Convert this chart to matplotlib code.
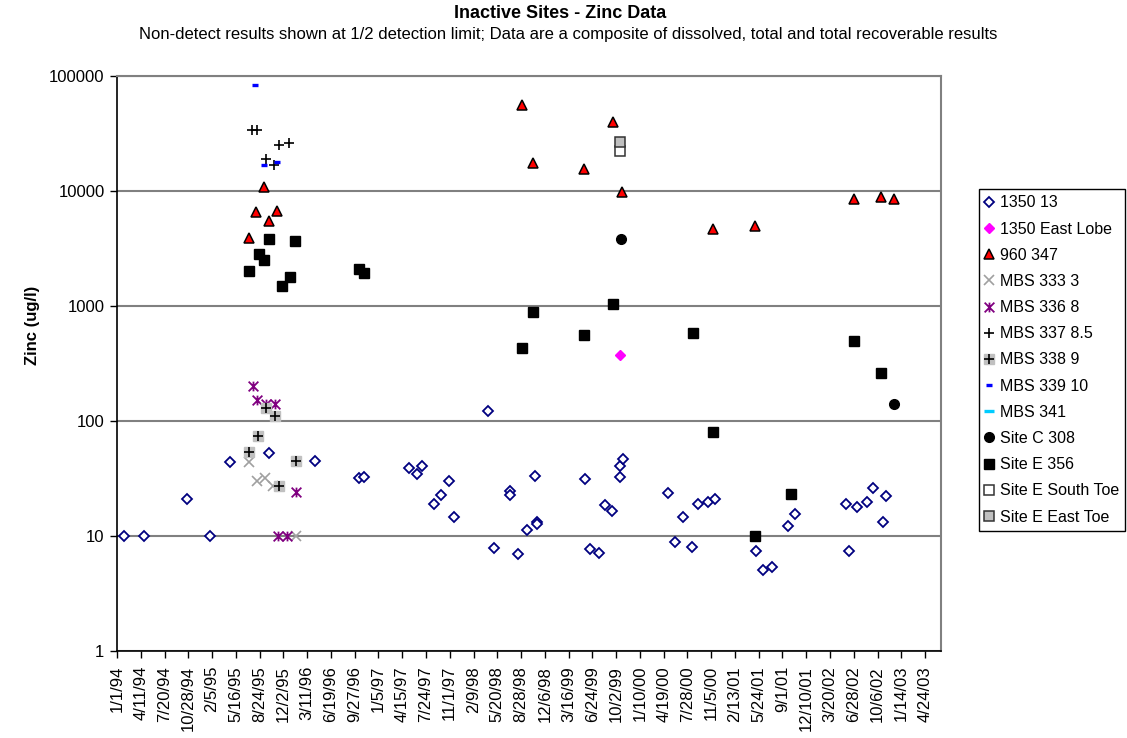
import datetime
import matplotlib
matplotlib.use('Agg')
import matplotlib.pyplot as plt
from matplotlib.path import Path

plt.rcParams['font.family'] = ['Liberation Sans', 'DejaVu Sans']

# Zinc (ug/l) per well; non-detects plotted at 1/2 detection limit
d_1350_13 = ['1994-01-29', '1994-04-26', '1994-10-23', '1995-01-26', '1995-04-22', '1995-10-01',
             '1996-04-13', '1996-10-14', '1996-11-04', '1997-05-14', '1997-06-18', '1997-07-08',
             '1997-08-26', '1997-09-27', '1997-10-28', '1997-11-17', '1998-04-11', '1998-05-05',
             '1998-07-12', '1998-07-14', '1998-08-17', '1998-09-22', '1998-10-25', '1998-11-02',
             '1998-11-03', '1999-05-25', '1999-06-15', '1999-07-20', '1999-08-16', '1999-09-14',
             '1999-10-18', '1999-10-18', '1999-11-01', '2000-05-06', '2000-06-07', '2000-07-10',
             '2000-08-15', '2000-09-11', '2000-10-23', '2000-11-21', '2001-05-13', '2001-06-12',
             '2001-07-17', '2001-09-23', '2001-10-22', '2002-05-25', '2002-06-08', '2002-07-13',
             '2002-08-24', '2002-09-15', '2002-10-27', '2002-11-10']
v_1350_13 = [10, 10, 21, 10, 44, 52, 45, 31.5, 32.5, 39, 34.5, 40.5,
             19, 22.5, 30, 14.6, 121, 7.8, 24.5, 22.5, 7.0, 11.1, 33, 13.1,
             12.6, 31, 7.6, 7.1, 18.6, 16.5, 32.5, 40, 46, 23.5, 8.9, 14.6,
             8.0, 18.8, 19.5, 21, 7.3, 5.0, 5.3, 12.1, 15.4, 18.8, 7.4, 17.8,
             19.5, 25.8, 13.2, 22]

d_1350_el = ['1999-10-19']
v_1350_el = [373]

d_960_347 = ['1995-07-10', '1995-08-10', '1995-09-13', '1995-10-01', '1995-11-07', '1998-08-31',
             '1998-10-19', '1999-05-22', '1999-09-19', '1999-10-25', '2000-11-14', '2001-05-08',
             '2002-06-30', '2002-10-19', '2002-12-15']
v_960_347 = [3850, 6500, 10800, 5500, 6700, 55600, 17500, 15300, 39300, 9700, 4600, 4900,
             8500, 8800, 8500]

d_mbs333 = ['1995-07-10', '1995-08-15', '1995-09-17', '1995-10-19', '1996-01-26']
v_mbs333 = [44, 30, 32, 27, 10]

d_mbs336 = ['1995-07-27', '1995-08-15', '1995-09-22', '1995-10-26', '1995-11-11', '1995-12-17',
            '1996-01-23']
v_mbs336 = [200, 150, 141, 140, 10, 10, 24]

d_mbs337 = ['1995-07-25', '1995-08-13', '1995-09-19', '1995-10-25', '1995-11-14', '1995-12-26']
v_mbs337 = [33700, 33700, 19000, 16700, 24800, 26000]

d_mbs338 = ['1995-07-10', '1995-08-17', '1995-09-19', '1995-10-26', '1995-11-14', '1996-01-24']
v_mbs338 = [53, 73, 130, 110, 27, 45]

d_mbs339 = ['1995-08-05', '1995-09-10', '1995-11-05']
v_mbs339 = [82600, 16800, 17800]

d_mbs341 = []
v_mbs341 = []

d_sitec = ['1999-10-23', '2002-12-15']
v_sitec = [3800, 141]

d_sitee = ['1995-07-10', '1995-08-21', '1995-09-11', '1995-10-02', '1995-11-26', '1995-12-29',
           '1996-01-18', '1996-10-15', '1996-11-07', '1998-09-01', '1998-10-19', '1999-05-22',
           '1999-09-20', '2000-08-21', '2000-11-14', '2001-05-08', '2001-10-06', '2002-06-30',
           '2002-10-19']
v_sitee = [1990, 2800, 2500, 3780, 1490, 1790, 3630, 2090, 1910, 429, 877, 556,
           1035, 579, 80, 10, 23, 497, 261]

d_south_toe = ['1999-10-18']
v_south_toe = [22300]

d_east_toe = ['1999-10-18']
v_east_toe = [26500]


def to_dates(strs):
    return [datetime.datetime.strptime(s, '%Y-%m-%d') for s in strs]


# Excel-style star: an X with a vertical bar through it
star = Path([(-1, -1), (1, 1), (-1, 1), (1, -1), (0, -1), (0, 1)],
            [Path.MOVETO, Path.LINETO] * 3)

fig = plt.figure(figsize=(11.27, 7.38), dpi=100)
ax = fig.add_axes([117 / 1127, 1 - 650.7 / 738, (941 - 117) / 1127, (650.7 - 75.7) / 738])

h = {}
h['1350 13'], = ax.plot(to_dates(d_1350_13), v_1350_13, ls='none', marker='D', ms=4.6,
                        mfc='white', mec='#000080', mew=1.3)
h['1350 East Lobe'], = ax.plot(to_dates(d_1350_el), v_1350_el, ls='none', marker='D', ms=5,
                               mfc='#FF00FF', mec='#FF00FF')
h['960 347'], = ax.plot(to_dates(d_960_347), v_960_347, ls='none', marker='^', ms=7,
                        mfc='#FF0000', mec='black', mew=1.1)
h['MBS 333 3'], = ax.plot(to_dates(d_mbs333), v_mbs333, ls='none', marker='x', ms=6.5,
                          mec='#A0A0A0', mew=1.2)
h['MBS 336 8'], = ax.plot(to_dates(d_mbs336), v_mbs336, ls='none', marker=star, ms=7,
                          mfc='none', mec='#800080', mew=1.3)
h['MBS 337 8.5'], = ax.plot(to_dates(d_mbs337), v_mbs337, ls='none', marker='+', ms=7.5,
                            mec='black', mew=1.2)
sq338, = ax.plot(to_dates(d_mbs338), v_mbs338, ls='none', marker='s', ms=7,
                 mfc='#C0C0C0', mec='#C0C0C0')
pl338, = ax.plot(to_dates(d_mbs338), v_mbs338, ls='none', marker='+', ms=7,
                 mec='black', mew=1.2)
h['MBS 338 9'] = (sq338, pl338)
h['MBS 339 10'], = ax.plot(to_dates(d_mbs339), v_mbs339, ls='none', marker='_', ms=4.5,
                           mec='#0000FF', mew=2.4)
h['MBS 341'], = ax.plot(to_dates(d_mbs341), v_mbs341, ls='none', marker='_', ms=7,
                        mec='#00CCFF', mew=2.4)
h['Site C 308'], = ax.plot(to_dates(d_sitec), v_sitec, ls='none', marker='o', ms=7,
                           mfc='black', mec='black')
h['Site E 356'], = ax.plot(to_dates(d_sitee), v_sitee, ls='none', marker='s', ms=7.2,
                           mfc='black', mec='black')
h['Site E South Toe'], = ax.plot(to_dates(d_south_toe), v_south_toe, ls='none', marker='s',
                                 ms=6.5, mfc='white', mec='#333333', mew=1.1)
h['Site E East Toe'], = ax.plot(to_dates(d_east_toe), v_east_toe, ls='none', marker='s',
                                ms=6.5, mfc='#C0C0C0', mec='#333333', mew=1.1)

# y: log scale, one gridline per decade
ax.set_yscale('log')
ax.set_ylim(1, 100000)
yt = [1, 10, 100, 1000, 10000, 100000]
ax.set_yticks(yt)
ax.set_yticklabels([str(v) for v in yt], fontsize=12)
ax.yaxis.set_minor_locator(matplotlib.ticker.NullLocator())
ax.grid(axis='y', color='#808080', lw=1.5)
ax.set_axisbelow(True)

# x: a tick every 100 days from 1/1/94
start = datetime.datetime(1994, 1, 1)
xt = [start + datetime.timedelta(days=100 * i) for i in range(35)]
ax.set_xlim(start, start + datetime.timedelta(days=3467))
ax.set_xticks(xt)
ax.set_xticklabels([f'{d.month}/{d.day}/{d:%y}' for d in xt], rotation=90, fontsize=12)

ax.tick_params(direction='out', length=5, width=1, color='black', pad=4)
ax.tick_params(axis='x', pad=6)
for s in ['left', 'bottom']:
    ax.spines[s].set_color('black')
    ax.spines[s].set_linewidth(1.2)
for s in ['top', 'right']:
    ax.spines[s].set_color('#808080')
    ax.spines[s].set_linewidth(1.5)

fig.text(32 / 1127, 1 - 325 / 738, 'Zinc (ug/l)', rotation=90, fontsize=12,
         fontweight='bold', ha='center', va='center')
fig.text(560 / 1127, 1 - 14 / 738, 'Inactive Sites - Zinc Data', fontsize=13,
         fontweight='bold', ha='center', va='center')
fig.text(568 / 1127, 1 - 35 / 738, 'Non-detect results shown at 1/2 detection limit; Data are a '
         'composite of dissolved, total and total recoverable results',
         fontsize=12, ha='center', va='center')

leg = fig.legend(list(h.values()), list(h.keys()), loc='upper left',
                 bbox_to_anchor=(979 / 1127, 1 - 189 / 738), borderaxespad=0,
                 fontsize=11.5, numpoints=1, handlelength=0.5, handletextpad=0.4,
                 labelspacing=0.7, borderpad=0.4, fancybox=False, framealpha=1)
leg.get_frame().set_edgecolor('black')
leg.get_frame().set_linewidth(1)

fig.savefig('out.png', dpi=100)
plt.close(fig)
